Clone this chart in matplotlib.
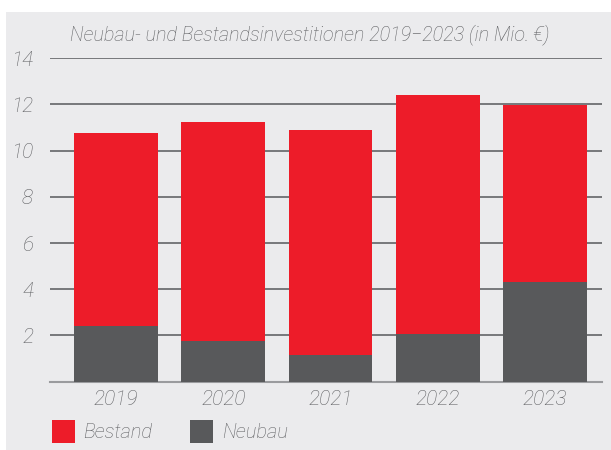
import matplotlib
matplotlib.use('Agg')
import matplotlib.pyplot as plt
from matplotlib.patches import Rectangle

years = ['2019', '2020', '2021', '2022', '2023']
neubau = [2.41, 1.76, 1.14, 2.08, 4.33]
bestand = [8.36, 9.50, 9.76, 10.33, 7.63]
yticks = [2, 4, 6, 8, 10, 12, 14]
title = 'Neubau- und Bestandsinvestitionen 2019\u22122023 (in Mio.\u2009€)'

RED = '#ed1c29'
DARK = '#58595b'
BG = '#ebebed'
TXT = '#616265'
GRID = '#6d6e71'

plt.rcParams['font.family'] = ['Roboto', 'DejaVu Sans']
FONT = dict(family=['Roboto', 'DejaVu Sans'], style='italic', weight='light', color=TXT)

fig = plt.figure(figsize=(6.11, 4.5), dpi=100)
fig.patch.set_facecolor('white')
fig.add_artist(Rectangle((6 / 611, 0), 1, (450 - 12) / 450, transform=fig.transFigure,
                         facecolor=BG, edgecolor='none', zorder=-10))

ax = fig.add_axes([50 / 611, (450 - 381.6) / 450, 552 / 611, (381.6 - 58.3) / 450])
ax.set_facecolor('none')
x = range(len(years))
ax.bar(x, neubau, width=0.78, color=DARK, zorder=3)
ax.bar(x, bestand, width=0.78, bottom=neubau, color=RED, zorder=3)

ax.set_ylim(0, 14)
ax.set_xlim(-0.614, 4.53)
ax.set_yticks(yticks)
ax.set_yticklabels([str(v) for v in yticks], fontdict=FONT, fontsize=15)
ax.set_xticks(list(x))
ax.set_xticklabels(years, fontdict=FONT, fontsize=15)
ax.tick_params(axis='y', length=0, pad=12)
ax.tick_params(axis='x', length=0, pad=6)
for v in yticks:
    ax.axhline(v, color=GRID, lw=1.3, zorder=1)
for s in ['top', 'right', 'left']:
    ax.spines[s].set_visible(False)
ax.spines['bottom'].set_color('#9a9b9e')
ax.spines['bottom'].set_linewidth(1.5)
ax.spines['bottom'].set_zorder(2)

fig.text(70 / 611, (450 - 35) / 450, title, ha='left', va='center', fontsize=14.3, **FONT)

# legend
for (x0, lab, col, tx) in [(52, 'Bestand', RED, 83), (190, 'Neubau', DARK, 222)]:
    fig.add_artist(Rectangle((x0 / 611, 7 / 450), 23 / 611, 23 / 450, transform=fig.transFigure,
                             facecolor=col, edgecolor='none'))
    fig.text(tx / 611, (450 - 432) / 450, lab, ha='left', va='center', fontsize=14.5, **FONT)

fig.savefig('out.png', dpi=100)
